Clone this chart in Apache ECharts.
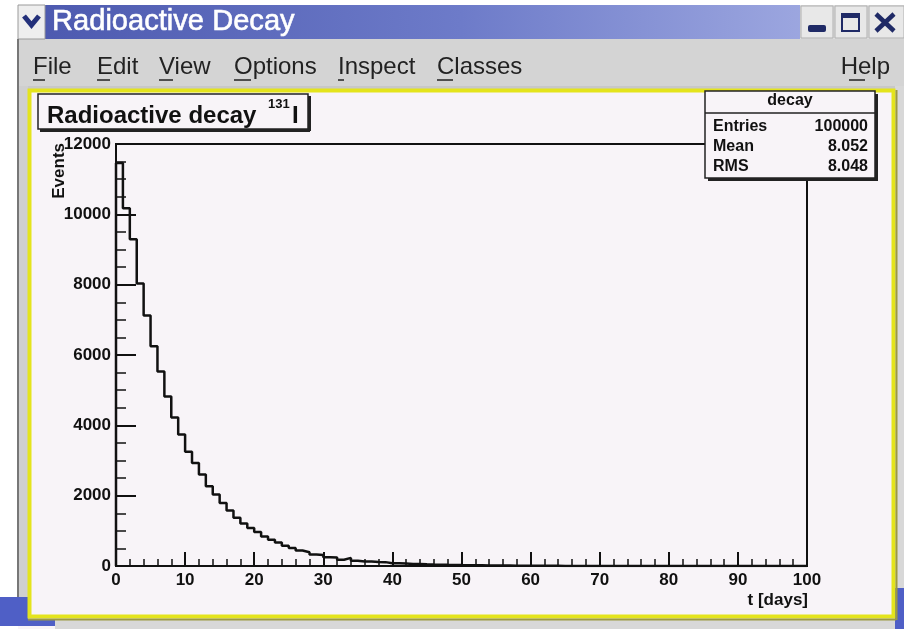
<!DOCTYPE html>
<html>
<head>
<meta charset="utf-8">
<script src="https://cdn.jsdelivr.net/npm/echarts@6/dist/echarts.min.js"></script>
<style>
html,body{margin:0;padding:0;background:#fff;}
#chart{width:904px;height:629px;}
</style>
</head>
<body>
<div id="chart"></div>
<script>
// ---- data ----
var windowTitle = 'Radioactive Decay';
var menuItems = ['File', 'Edit', 'View', 'Options', 'Inspect', 'Classes'];
var helpItem = 'Help';
var histTitle = 'Radioactive decay';
var isotopeMass = '131';
var isotopeSymbol = 'I';
var statsName = 'decay';
var statLabels = ['Entries', 'Mean', 'RMS'];
var statValues = ['100000', '8.052', '8.048'];
var xTitle = 't [days]';
var yTitle = 'Events';
var binWidth = 1; // days per bin
var xMin = 0, xMax = 100, xStep = 10;
var yMin = 0, yMax = 12000, yStep = 2000;
// counts per 1-day bin, t = 0..99 days
var counts = [
  11460, 10170, 9290, 8030, 7120, 6250, 5530, 4820, 4220, 3740,
  3250, 2930, 2600, 2270, 2030, 1790, 1580, 1370, 1210, 1080,
  970, 840, 745, 665, 575, 510, 440, 390, 330, 310,
  250, 240, 180, 230, 150, 125, 125, 115, 110, 80,
  75, 70, 60, 55, 48, 42, 38, 33, 30, 26,
  23, 20, 18, 16, 14, 12, 11, 10, 8, 7,
  6, 5, 5, 4, 3, 3, 2, 2, 1, 1,
  1, 1, 0, 1, 0, 0, 0, 0, 0, 0,
  0, 0, 0, 0, 0, 0, 0, 0, 0, 0,
  0, 0, 0, 0, 0, 0, 0, 0, 0, 0
];

// ---- build step data ----
var stepData = [[xMin, 0]];
counts.forEach(function (c, i) { stepData.push([xMin + i * binWidth, c]); });
stepData.push([xMin + counts.length * binWidth, 0]);

var chart = echarts.init(document.getElementById('chart'), null, {renderer: 'canvas'});

var FONT = '"Liberation Sans", Arial, Helvetica, sans-serif';
var menuX = [33, 97, 159, 234, 338, 437];

var g = [];
// outside white
g.push({type: 'rect', shape: {x: 0, y: 0, width: 904, height: 6}, style: {fill: '#ffffff'}, z: 1});
g.push({type: 'rect', shape: {x: 0, y: 0, width: 18, height: 629}, style: {fill: '#ffffff'}, z: 1});
// title bar
g.push({type: 'rect', shape: {x: 18, y: 5, width: 886, height: 34},
  style: {fill: new echarts.graphic.LinearGradient(0, 0, 1, 0, [
    {offset: 0, color: '#4b58ae'}, {offset: 0.5, color: '#6d7bc9'}, {offset: 1, color: '#aab3e6'}])}, z: 1});
g.push({type: 'rect', shape: {x: 18, y: 5, width: 27, height: 34}, style: {fill: '#eeeeee', stroke: '#9a9a9a', lineWidth: 1}, z: 2});
g.push({type: 'polyline', shape: {points: [[24, 16], [31.5, 25], [39, 16]]}, style: {stroke: '#23307a', lineWidth: 5, fill: null}, z: 3});
g.push({type: 'text', x: 52, y: 22, scaleX: 0.97, style: {text: windowTitle, fill: '#ffffff', font: '30px ' + FONT, textVerticalAlign: 'middle', stroke: '#ffffff', lineWidth: 0.6}, z: 3});
// window buttons
g.push({type: 'rect', shape: {x: 800, y: 5, width: 104, height: 34}, style: {fill: '#dcdcdc'}, z: 2});
g.push({type: 'rect', shape: {x: 801, y: 6, width: 32, height: 32}, style: {fill: '#e8e8e8', stroke: '#b0b0b0', lineWidth: 1}, z: 2});
g.push({type: 'rect', shape: {x: 835, y: 6, width: 32, height: 32}, style: {fill: '#e8e8e8', stroke: '#b0b0b0', lineWidth: 1}, z: 2});
g.push({type: 'rect', shape: {x: 869, y: 6, width: 35, height: 32}, style: {fill: '#e8e8e8', stroke: '#b0b0b0', lineWidth: 1}, z: 2});
g.push({type: 'rect', shape: {x: 808, y: 25, width: 18, height: 7, r: 2}, style: {fill: '#1f2a66'}, z: 3});
g.push({type: 'rect', shape: {x: 842, y: 14, width: 17, height: 17}, style: {fill: 'none', stroke: '#1f2a66', lineWidth: 2}, z: 3});
g.push({type: 'rect', shape: {x: 842, y: 13, width: 17, height: 5}, style: {fill: '#1f2a66'}, z: 3});
g.push({type: 'line', shape: {x1: 876, y1: 14, x2: 894, y2: 31}, style: {stroke: '#1f2a66', lineWidth: 4.5}, z: 3});
g.push({type: 'line', shape: {x1: 894, y1: 14, x2: 876, y2: 31}, style: {stroke: '#1f2a66', lineWidth: 4.5}, z: 3});
// menu bar
g.push({type: 'rect', shape: {x: 18, y: 39, width: 886, height: 50}, style: {fill: '#d4d4d4'}, z: 1});
menuItems.forEach(function (m, i) {
  g.push({type: 'text', x: menuX[i], y: 67, style: {text: m, fill: '#222222', font: '24px ' + FONT, textVerticalAlign: 'middle'}, z: 3});
});
g.push({type: 'text', x: 890, y: 67, style: {text: helpItem, fill: '#222222', font: '24px ' + FONT, textAlign: 'right', textVerticalAlign: 'middle'}, z: 3});
// underline first letters
var ulW = [12, 13, 14, 17, 6, 16];
menuX.forEach(function (x, i) {
  g.push({type: 'line', shape: {x1: x, y1: 80, x2: x + ulW[i], y2: 80}, style: {stroke: '#222222', lineWidth: 1.5}, z: 3});
});
g.push({type: 'line', shape: {x1: 849, y1: 80, x2: 865, y2: 80}, style: {stroke: '#222222', lineWidth: 1.5}, z: 3});
// canvas frame surroundings
g.push({type: 'rect', shape: {x: 18, y: 86, width: 886, height: 4}, style: {fill: '#c8c8c8'}, z: 1});
g.push({type: 'rect', shape: {x: 19, y: 86, width: 9, height: 511}, style: {fill: '#cfcfcf'}, z: 1});
g.push({type: 'rect', shape: {x: 895, y: 86, width: 9, height: 502}, style: {fill: '#d8d8d8'}, z: 1});
g.push({type: 'rect', shape: {x: 55, y: 619, width: 840, height: 10}, style: {fill: '#d8d8d8'}, z: 1});
g.push({type: 'line', shape: {x1: 18, y1: 39, x2: 18, y2: 597}, style: {stroke: '#777777', lineWidth: 2}, z: 2});
// desktop blue bits
g.push({type: 'rect', shape: {x: 0, y: 597, width: 28, height: 28}, style: {fill: '#4f5fc6'}, z: 1});
g.push({type: 'rect', shape: {x: 0, y: 619, width: 55, height: 7}, style: {fill: '#4f5fc6'}, z: 1});
g.push({type: 'rect', shape: {x: 895, y: 588, width: 9, height: 41}, style: {fill: '#4f5fc6'}, z: 1});
// yellow canvas border
g.push({type: 'rect', shape: {x: 29.5, y: 90.5, width: 864, height: 526}, style: {fill: 'none', stroke: '#e4e41c', lineWidth: 4}, z: 2});
g.push({type: 'line', shape: {x1: 28, y1: 619.5, x2: 896, y2: 619.5}, style: {stroke: '#9c9a40', lineWidth: 2}, z: 2});
g.push({type: 'line', shape: {x1: 896.5, y1: 90, x2: 896.5, y2: 620}, style: {stroke: '#9c9a40', lineWidth: 2}, z: 2});
// title box
g.push({type: 'rect', shape: {x: 38, y: 94, width: 270, height: 35}, style: {fill: '#f8f4f8', stroke: '#222222', lineWidth: 1.5}, z: 10});
g.push({type: 'line', shape: {x1: 40, y1: 130.5, x2: 310, y2: 130.5}, style: {stroke: '#222222', lineWidth: 3}, z: 10});
g.push({type: 'line', shape: {x1: 309.5, y1: 96, x2: 309.5, y2: 131}, style: {stroke: '#222222', lineWidth: 3}, z: 10});
g.push({type: 'text', x: 47, y: 116, style: {text: histTitle, fill: '#111111', font: 'bold 24px ' + FONT, textVerticalAlign: 'middle'}, z: 11});
g.push({type: 'text', x: 268, y: 104, style: {text: isotopeMass, fill: '#111111', font: 'bold 13px ' + FONT, textVerticalAlign: 'middle'}, z: 11});
g.push({type: 'text', x: 292, y: 116, style: {text: isotopeSymbol, fill: '#111111', font: 'bold 24px ' + FONT, textVerticalAlign: 'middle'}, z: 11});
// stats box
g.push({type: 'rect', shape: {x: 705, y: 91, width: 170, height: 87}, style: {fill: '#f8f4f8', stroke: '#222222', lineWidth: 1.5}, z: 10});
g.push({type: 'line', shape: {x1: 708, y1: 179.5, x2: 878, y2: 179.5}, style: {stroke: '#222222', lineWidth: 3}, z: 10});
g.push({type: 'line', shape: {x1: 876.5, y1: 94, x2: 876.5, y2: 181}, style: {stroke: '#222222', lineWidth: 3}, z: 10});
g.push({type: 'line', shape: {x1: 705, y1: 113, x2: 875, y2: 113}, style: {stroke: '#222222', lineWidth: 1.5}, z: 11});
g.push({type: 'text', x: 790, y: 101, style: {text: statsName, fill: '#111111', font: 'bold 16px ' + FONT, textAlign: 'center', textVerticalAlign: 'middle'}, z: 11});
statLabels.forEach(function (s, i) {
  g.push({type: 'text', x: 713, y: 127 + i * 20, style: {text: s, fill: '#111111', font: 'bold 16px ' + FONT, textVerticalAlign: 'middle'}, z: 11});
  g.push({type: 'text', x: 868, y: 127 + i * 20, style: {text: statValues[i], fill: '#111111', font: 'bold 16px ' + FONT, textAlign: 'right', textVerticalAlign: 'middle'}, z: 11});
});
// axis titles
g.push({type: 'text', x: 59, y: 143, rotation: Math.PI / 2, style: {text: yTitle, fill: '#111111', font: 'bold 17px ' + FONT, textAlign: 'right', textVerticalAlign: 'middle'}, z: 11});
g.push({type: 'text', x: 808, y: 600, style: {text: xTitle, fill: '#111111', font: 'bold 17px ' + FONT, textAlign: 'right', textVerticalAlign: 'middle'}, z: 11});

var option = {
  backgroundColor: '#f8f4f8',
  animation: false,
  grid: {left: 116, top: 144, right: 97, bottom: 63, show: true, borderColor: '#111111', borderWidth: 2, backgroundColor: 'transparent'},
  xAxis: {
    type: 'value', min: xMin, max: xMax, interval: xStep,
    axisLine: {show: true, onZero: false, lineStyle: {color: '#111111', width: 2}},
    axisTick: {show: true, inside: true, length: 14, lineStyle: {color: '#111111', width: 2}},
    minorTick: {show: true, splitNumber: 5, length: 7, lineStyle: {color: '#111111', width: 1.5}},
    splitLine: {show: false},
    axisLabel: {color: '#111111', fontWeight: 'bold', fontSize: 17, fontFamily: FONT, margin: 6,
      formatter: function (v) { return String(v); }}
  },
  yAxis: {
    type: 'value', min: yMin, max: yMax, interval: yStep,
    axisLine: {show: true, lineStyle: {color: '#111111', width: 2}},
    axisTick: {show: true, inside: true, length: 20, lineStyle: {color: '#111111', width: 2}},
    minorTick: {show: true, splitNumber: 4, length: 10, lineStyle: {color: '#111111', width: 1.5}},
    splitLine: {show: false},
    axisLabel: {color: '#111111', fontWeight: 'bold', fontSize: 17, fontFamily: FONT, margin: 5,
      formatter: function (v) { return String(v); }}
  },
  series: [{
    type: 'line', step: 'end', data: stepData, symbol: 'none', clip: true,
    lineStyle: {color: '#111111', width: 2.5}
  }],
  graphic: {elements: g}
};
chart.setOption(option);
</script>
</body>
</html>
